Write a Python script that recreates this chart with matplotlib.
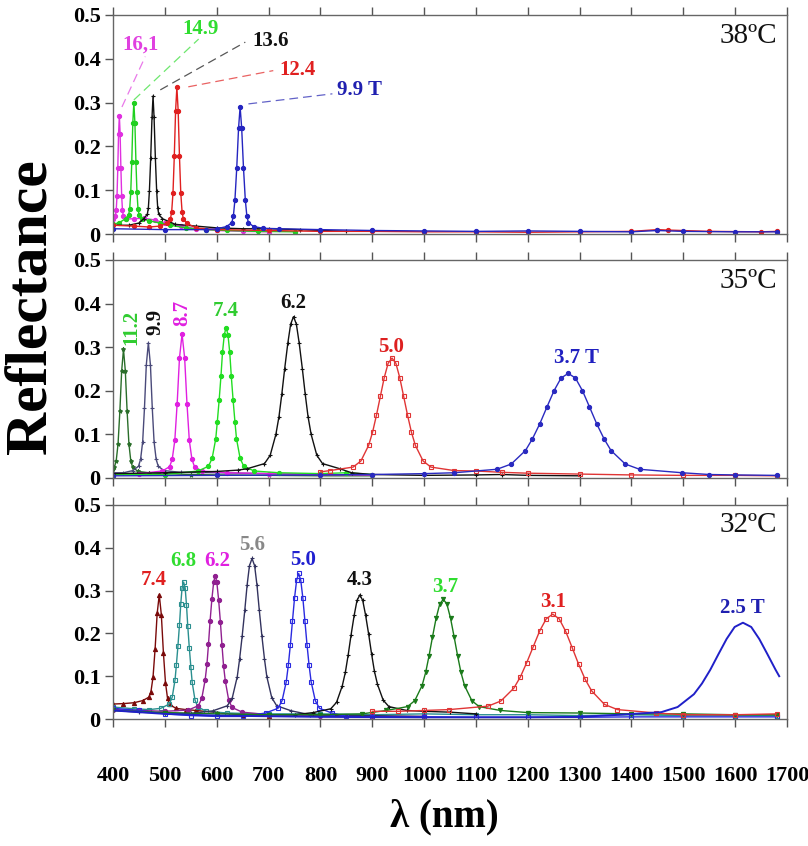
import matplotlib
matplotlib.use("Agg")
import matplotlib.pyplot as plt
from matplotlib.ticker import FixedLocator

SERIF = ["Liberation Serif", "DejaVu Serif"]
plt.rcParams["font.family"] = SERIF

# ---------------- data: 38 C panel ----------------
x38_161 = [400, 404.5, 406, 407.5, 409, 410.5, 412, 413.5, 415, 416.5, 418, 419.5, 424,
           440, 460, 480, 500, 530, 560, 600, 650, 700]
y38_161 = [0.034, 0.042, 0.055, 0.087, 0.150, 0.229, 0.270, 0.229, 0.150, 0.087, 0.055, 0.042, 0.034,
           0.035, 0.036, 0.032, 0.025, 0.018, 0.012, 0.008, 0.006, 0.005]
x38_149 = [400, 412, 424, 430, 432, 434, 436, 438, 440, 442, 444, 446, 448, 450, 456,
           470, 490, 510, 540, 580, 620, 680, 750]
y38_149 = [0.022, 0.026, 0.035, 0.044, 0.058, 0.095, 0.165, 0.254, 0.300, 0.254, 0.165, 0.095, 0.058, 0.044, 0.035,
           0.030, 0.025, 0.020, 0.014, 0.010, 0.008, 0.006, 0.005]
x38_136 = [400, 430, 450, 459, 466, 468, 470, 472.5, 475, 477, 479, 481.5, 484, 486, 488, 495,
           520, 560, 600, 650, 700, 760, 850]
y38_136 = [0.020, 0.020, 0.025, 0.035, 0.045, 0.060, 0.098, 0.173, 0.266, 0.315, 0.266, 0.173, 0.098, 0.060, 0.045, 0.035,
           0.022, 0.018, 0.014, 0.012, 0.012, 0.010, 0.006]
x38_124 = [400, 440, 470, 490, 503, 510.5, 513, 515.5, 518, 520.5, 523, 525.5, 528, 530.5, 533, 535.5, 543,
           560, 600, 700, 800, 900, 1000, 1100, 1200, 1300, 1400, 1450, 1470, 1550, 1650, 1680]
y38_124 = [0.020, 0.018, 0.016, 0.018, 0.024, 0.034, 0.051, 0.094, 0.177, 0.281, 0.335, 0.281, 0.177, 0.094, 0.051, 0.034, 0.024,
           0.014, 0.010, 0.008, 0.006, 0.006, 0.005, 0.005, 0.004, 0.005, 0.006, 0.010, 0.009, 0.006, 0.005, 0.006]
x38_99 = [400, 500, 580, 600, 619, 629, 632, 635, 638.5, 642, 645, 648, 651.5, 655, 658, 661, 671,
          690, 720, 800, 900, 1000, 1100, 1200, 1300, 1400, 1450, 1500, 1600, 1680]
y38_99 = [0.012, 0.010, 0.010, 0.012, 0.017, 0.026, 0.041, 0.078, 0.151, 0.242, 0.290, 0.242, 0.151, 0.078, 0.041, 0.026, 0.017,
          0.013, 0.012, 0.010, 0.008, 0.007, 0.006, 0.007, 0.006, 0.005, 0.008, 0.006, 0.005, 0.005]

# ---------------- data: 35 C panel ----------------
x35_112 = [400, 402.5, 406, 409.5, 413, 416.5, 420, 423.5, 427, 430.5, 434, 437.5, 448,
           470, 500, 550, 600, 700, 800, 900]
y35_112 = [0.020, 0.025, 0.040, 0.078, 0.153, 0.246, 0.295, 0.246, 0.153, 0.078, 0.040, 0.025, 0.015,
           0.012, 0.010, 0.008, 0.007, 0.006, 0.005, 0.005]
x35_99 = [400, 420, 438, 449, 453, 457, 460.5, 464, 468, 472, 475.5, 479, 483, 487, 498,
          530, 600, 700, 800, 900]
y35_99 = [0.012, 0.012, 0.017, 0.027, 0.043, 0.083, 0.161, 0.259, 0.310, 0.259, 0.161, 0.083, 0.043, 0.027, 0.017,
          0.013, 0.012, 0.010, 0.008, 0.007]
x35_87 = [400, 450, 495, 509, 514, 519, 523.5, 528, 533, 538, 542.5, 547, 552, 557, 571,
          620, 700, 800, 900]
y35_87 = [0.008, 0.010, 0.016, 0.026, 0.043, 0.086, 0.170, 0.275, 0.330, 0.275, 0.170, 0.086, 0.043, 0.026, 0.016,
          0.012, 0.010, 0.008, 0.007]
x35_74 = [400, 500, 564, 584, 591, 598, 601, 604.5, 608, 611, 614.5, 618, 621.5, 625, 628, 631.5, 635, 638, 645, 652, 672,
          720, 800, 850, 900]
y35_74 = [0.008, 0.008, 0.016, 0.027, 0.045, 0.090, 0.129, 0.178, 0.233, 0.288, 0.329, 0.345, 0.329, 0.288, 0.233, 0.178,
          0.129, 0.090, 0.045, 0.027, 0.016, 0.012, 0.010, 0.012, 0.008]
x35_62 = [400, 500, 600, 640, 658, 692, 703, 714, 720, 725.5, 731, 737, 742.5, 748, 753.5, 759, 765, 770.5, 776, 782,
          793, 804, 838, 860, 900, 1000, 1100, 1150, 1200, 1300]
y35_62 = [0.010, 0.012, 0.015, 0.018, 0.021, 0.033, 0.052, 0.100, 0.141, 0.193, 0.251, 0.309, 0.353, 0.370, 0.353, 0.309,
          0.251, 0.193, 0.141, 0.100, 0.052, 0.033, 0.021, 0.012, 0.008, 0.006, 0.007, 0.008, 0.006, 0.005]
x35_50 = [800, 818, 863, 878, 893, 900.5, 908, 915.5, 923, 930.5, 938, 945.5, 953, 960.5, 968, 975.5, 983, 998, 1013, 1058,
          1100, 1150, 1200, 1300, 1400, 1500, 1600, 1680]
y35_50 = [0.014, 0.017, 0.025, 0.039, 0.075, 0.105, 0.144, 0.187, 0.230, 0.263, 0.275, 0.263, 0.230, 0.187, 0.144, 0.105,
          0.075, 0.039, 0.025, 0.017, 0.016, 0.013, 0.011, 0.009, 0.007, 0.006, 0.006, 0.005]
x35_37 = [400, 600, 800, 900, 1000, 1058, 1140.5, 1168, 1195.5, 1209, 1223, 1237, 1250.5, 1264, 1278, 1292, 1305.5, 1319,
          1333, 1347, 1360.5, 1388, 1415.5, 1498, 1550, 1600, 1680]
y35_37 = [0.005, 0.006, 0.007, 0.008, 0.010, 0.012, 0.020, 0.032, 0.063, 0.090, 0.124, 0.163, 0.200, 0.229, 0.240, 0.229,
          0.200, 0.163, 0.124, 0.090, 0.063, 0.032, 0.020, 0.012, 0.008, 0.007, 0.006]

# ---------------- data: 32 C panel ----------------
x32_74 = [400, 420, 440, 457, 469, 473, 477, 481, 485, 489, 493, 497, 501, 505, 509, 521,
          540, 560, 600, 650, 700]
y32_74 = [0.035, 0.036, 0.038, 0.043, 0.051, 0.064, 0.098, 0.164, 0.247, 0.290, 0.244, 0.155, 0.085, 0.048, 0.034, 0.025,
          0.022, 0.020, 0.015, 0.010, 0.008]
x32_68 = [400, 440, 470, 492, 508.5, 514, 519.5, 522, 525, 528, 530.5, 533, 536, 539, 541.5, 544, 547, 550, 552.5, 558,
          563.5, 580, 620, 700, 800, 900, 1000, 1100, 1200, 1300, 1400, 1500, 1600, 1680]
y32_68 = [0.028, 0.024, 0.022, 0.025, 0.035, 0.051, 0.092, 0.126, 0.170, 0.220, 0.269, 0.306, 0.320, 0.306, 0.267, 0.217,
          0.166, 0.121, 0.086, 0.044, 0.028, 0.018, 0.014, 0.012, 0.012, 0.010, 0.012, 0.010, 0.010, 0.008, 0.010, 0.008,
          0.008, 0.008]
x32_62 = [400, 450, 500, 545, 564.5, 571, 577.5, 581, 584, 587, 590.5, 594, 597, 600, 603.5, 607, 610, 613, 616.5, 623,
          629.5, 649, 700, 800, 900, 1000]
y32_62 = [0.022, 0.020, 0.018, 0.021, 0.031, 0.048, 0.091, 0.128, 0.175, 0.228, 0.280, 0.320, 0.335, 0.320, 0.279, 0.226,
          0.173, 0.125, 0.088, 0.044, 0.027, 0.016, 0.010, 0.008, 0.006, 0.006]
x32_56 = [400, 450, 500, 550, 592, 620.5, 630, 639.5, 644, 649, 654, 658.5, 663, 668, 673, 677.5, 682, 687, 692, 696.5,
          706, 715.5, 744, 780, 850, 900, 1000]
y32_56 = [0.020, 0.016, 0.014, 0.013, 0.019, 0.031, 0.050, 0.099, 0.140, 0.194, 0.254, 0.313, 0.358, 0.375, 0.358, 0.313,
          0.254, 0.194, 0.140, 0.099, 0.050, 0.031, 0.019, 0.010, 0.008, 0.008, 0.006]
x32_50 = [400, 450, 500, 550, 600, 650, 694, 718, 726, 734, 738, 742, 746, 750, 754, 758, 762, 766, 770, 774, 778, 782,
          790, 798, 822, 850, 900, 1000, 1100, 1200, 1300, 1400, 1500, 1600, 1680]
y32_50 = [0.025, 0.020, 0.012, 0.008, 0.006, 0.006, 0.014, 0.025, 0.043, 0.087, 0.126, 0.174, 0.229, 0.283, 0.324, 0.340,
          0.324, 0.283, 0.229, 0.174, 0.126, 0.087, 0.043, 0.025, 0.014, 0.006, 0.005, 0.005, 0.004, 0.004, 0.004, 0.005,
          0.005, 0.005, 0.005]
x32_43 = [700, 750, 786, 820, 831, 842, 848, 853.5, 859, 865, 870.5, 876, 881.5, 887, 893, 898.5, 904, 910, 921, 932,
          966, 1000, 1050, 1100]
y32_43 = [0.010, 0.010, 0.015, 0.024, 0.039, 0.077, 0.109, 0.150, 0.196, 0.242, 0.277, 0.290, 0.277, 0.243, 0.198, 0.153,
          0.112, 0.081, 0.044, 0.029, 0.020, 0.018, 0.016, 0.012]
x32_37 = [400, 500, 600, 700, 800, 880, 927, 968, 982, 996, 1003, 1009.5, 1016, 1023, 1030, 1037, 1044, 1051, 1058,
          1064.5, 1071, 1078, 1092, 1106, 1147, 1200, 1300, 1400, 1500, 1600, 1680]
y32_37 = [0.020, 0.015, 0.012, 0.010, 0.010, 0.012, 0.020, 0.029, 0.043, 0.078, 0.109, 0.148, 0.191, 0.235, 0.268, 0.280,
          0.268, 0.235, 0.191, 0.148, 0.109, 0.078, 0.043, 0.029, 0.020, 0.015, 0.014, 0.012, 0.012, 0.010, 0.010]
x32_31 = [900, 950, 1000, 1048, 1123, 1148, 1173, 1185.5, 1198, 1210.5, 1223, 1235.5, 1248, 1260.5, 1273, 1285.5, 1298,
          1310.5, 1323, 1348, 1373, 1448, 1500, 1600, 1680]
y32_31 = [0.018, 0.018, 0.020, 0.022, 0.030, 0.042, 0.072, 0.098, 0.132, 0.169, 0.206, 0.234, 0.245, 0.234, 0.205, 0.167,
          0.128, 0.093, 0.066, 0.034, 0.022, 0.014, 0.010, 0.010, 0.012]
x32_25 = [400, 500, 600, 800, 1000, 1200, 1300, 1363, 1457.5, 1489, 1520.5, 1536, 1552, 1568, 1583.5, 1599, 1615, 1631,
          1646.5, 1662, 1678, 1685]
y32_25 = [0.020, 0.012, 0.008, 0.005, 0.004, 0.004, 0.005, 0.009, 0.016, 0.028, 0.058, 0.083, 0.115, 0.152, 0.187, 0.215,
          0.225, 0.215, 0.187, 0.152, 0.115, 0.100]

# peak labels (field in tesla)
labels38 = ["16,1", "14.9", "13.6", "12.4", "9.9 T"]
labels35 = ["11.2", "9.9", "8.7", "7.4", "6.2", "5.0", "3.7 T"]
labels32 = ["7.4", "6.8", "6.2", "5.6", "5.0", "4.3", "3.7", "3.1", "2.5 T"]
temps = ["38ºC", "35ºC", "32ºC"]
xticks = list(range(400, 1800, 100))
yticks = [0, 0.1, 0.2, 0.3, 0.4, 0.5]

# ---------------- styles / layout ----------------
panel38 = [
    (x38_161, y38_161, "#e030e0", "o", "#e040e0"),
    (x38_149, y38_149, "#20d020", "o", "#30dd30"),
    (x38_136, y38_136, "#111111", "+", "#111111"),
    (x38_124, y38_124, "#e02020", "o", "#e02020"),
    (x38_99, y38_99, "#2525c0", "o", "#2020b0"),
]
# text position, alignment, leader line start / end (data coords)
pos38 = [
    ((452, 0.432), "center", (417, 0.290), (462, 0.405)),
    ((568, 0.468), "center", (440, 0.306), (565, 0.445)),
    ((668, 0.440), "left", (491, 0.329), (655, 0.438)),
    ((720, 0.374), "left", (545, 0.336), (709, 0.373)),
    ((832, 0.329), "left", (661, 0.297), (823, 0.320)),
]
panel35 = [
    (x35_112, y35_112, "#2a6e2a", "*", "#30cc30"),
    (x35_99, y35_99, "#4a4a7a", "+", "#111111"),
    (x35_87, y35_87, "#e020e0", "o", "#e020e0"),
    (x35_74, y35_74, "#22dd22", "o", "#30cc30"),
    (x35_62, y35_62, "#111111", "+", "#111111"),
    (x35_50, y35_50, "#e03535", "s", "#dd2020"),
    (x35_37, y35_37, "#2a2ac0", "o", "#2020c0"),
]
pos35 = [((436, 0.345), 90), ((482, 0.358), 90), ((533, 0.378), 90), ((618, 0.383), 0),
         ((748, 0.401), 0), ((937, 0.301), 0), ((1293, 0.275), 0)]
panel32 = [
    (x32_74, y32_74, "#7a0a0a", "^", "#e02020"),
    (x32_68, y32_68, "#2a8f8f", "s", "#30dd30"),
    (x32_62, y32_62, "#902090", "o", "#e020e0"),
    (x32_56, y32_56, "#33335e", "+", "#888888"),
    (x32_50, y32_50, "#2a2ae0", "s", "#2020d0"),
    (x32_43, y32_43, "#111111", "+", "#111111"),
    (x32_37, y32_37, "#1a7a1a", "v", "#30dd30"),
    (x32_31, y32_31, "#e03535", "s", "#e02020"),
    (x32_25, y32_25, "#2020c8", None, "#2020b0"),
]
pos32 = [(478, 0.325), (536, 0.368), (600, 0.368), (668, 0.407), (766, 0.371),
         (875, 0.325), (1041, 0.309), (1249, 0.274), (1614, 0.259)]

LABEL_FS = 15
TICK_FS = 16

fig = plt.figure(figsize=(8.08, 8.46), dpi=100)
rects = [(0.140, 0.7234, 0.834, 0.2589),
         (0.140, 0.4350, 0.834, 0.2577),
         (0.140, 0.1501, 0.834, 0.2530)]
axes = [fig.add_axes(r) for r in rects]


def style_axis(ax, temp, show_xlabels):
    ax.set_xlim(400, 1700)
    ax.set_ylim(0, 0.5)
    ax.xaxis.set_major_locator(FixedLocator(xticks))
    ax.yaxis.set_major_locator(FixedLocator(yticks))
    ax.set_yticklabels(["0" if v == 0 else f"{v:.1f}" for v in yticks],
                       fontweight="bold", fontsize=TICK_FS)
    ax.tick_params(axis="x", direction="out", length=6, width=1, top=True,
                   labelbottom=show_xlabels, labelsize=TICK_FS, colors="#555555",
                   labelcolor="black", pad=28)
    ax.tick_params(axis="y", direction="out", length=6, width=1, right=False,
                   colors="#555555", labelcolor="black", pad=3)
    if show_xlabels:
        ax.set_xticklabels([str(v) for v in xticks], fontweight="bold", fontsize=TICK_FS)
    for sp in ax.spines.values():
        sp.set_color("#666666")
        sp.set_linewidth(1.0)
    ax.text(0.985, 0.965, temp, transform=ax.transAxes, ha="right", va="top",
            fontsize=21, color="#111111")


def draw_curves(ax, panel):
    for xs, ys, col, mk, _ in panel:
        mfc = "none" if mk == "s" else col
        lw = 1.4 if mk is None else 1.0
        ax.plot(xs, ys, color=col, lw=lw, marker=mk, ms=3, mew=0.8, mfc=mfc)


# 38 C
ax = axes[0]
style_axis(ax, temps[0], False)
draw_curves(ax, panel38)
for (xs, ys, col, mk, tcol), lab, (tp, ha, p0, p1) in zip(panel38, labels38, pos38):
    ax.plot([p0[0], p1[0]], [p0[1], p1[1]], color=tcol, lw=0.9, ls=(0, (7, 4)), alpha=0.7)
    ax.text(tp[0], tp[1], lab, color=tcol, fontsize=LABEL_FS, fontweight="bold",
            ha=ha, va="center")

# 35 C
ax = axes[1]
style_axis(ax, temps[1], False)
draw_curves(ax, panel35)
for (xs, ys, col, mk, tcol), lab, (tp, rot) in zip(panel35, labels35, pos35):
    ax.text(tp[0], tp[1], lab, color=tcol, fontsize=LABEL_FS, fontweight="bold",
            ha="center", va="center", rotation=rot)

# 32 C
ax = axes[2]
style_axis(ax, temps[2], True)
draw_curves(ax, panel32)
for (xs, ys, col, mk, tcol), lab, tp in zip(panel32, labels32, pos32):
    ax.text(tp[0], tp[1], lab, color=tcol, fontsize=LABEL_FS, fontweight="bold",
            ha="center", va="center")

fig.text(0.04, 0.637, "Reflectance", rotation=90, ha="center", va="center",
         fontsize=43, fontweight="bold")
fig.text(0.55, 0.012, "λ (nm)", ha="center", va="bottom", fontsize=28, fontweight="bold")

fig.savefig("out.png", dpi=100)
